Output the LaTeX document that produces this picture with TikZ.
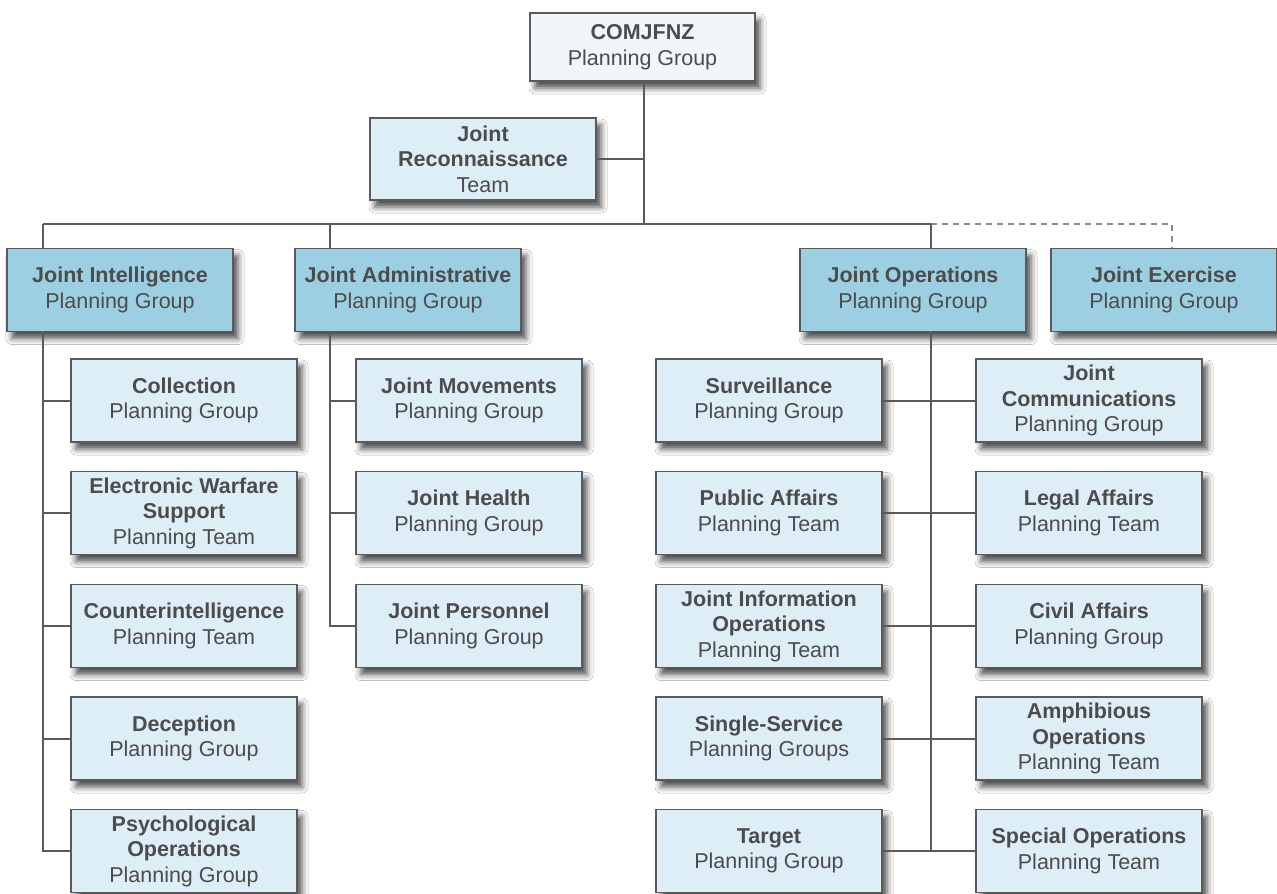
\documentclass[tikz,border=0pt]{standalone}
\usepackage{fontspec}
\setmainfont{Liberation Sans}
\usetikzlibrary{shadows.blur}
\definecolor{lightbox}{HTML}{DDEEF6}
\definecolor{topbox}{HTML}{F1F6FA}
\definecolor{headbox}{HTML}{9DCFE2}
\definecolor{edge}{HTML}{5A5A5A}
\definecolor{txt}{HTML}{4C4C4C}
\definecolor{dashc}{HTML}{8C8C8C}
\tikzset{
  box/.style={draw=edge, line width=1.4pt, minimum width=226pt, minimum height=83pt,
    inner sep=0pt, align=center, text=txt, font=\fontsize{21.5}{25.5}\selectfont,
    blur shadow={shadow xshift=5pt, shadow yshift=-7pt, shadow blur radius=6pt, shadow opacity=70}},
  lbox/.style={box, fill=lightbox},
  hbox/.style={box, fill=headbox},
  tbox/.style={box, fill=topbox, minimum width=225pt, minimum height=68pt},
  conn/.style={draw=edge, line width=2pt},
  dconn/.style={draw=dashc, line width=1.6pt, dash pattern=on 6pt off 5pt}
}
\begin{document}
\begin{tikzpicture}[x=1pt,y=-1pt]
\useasboundingbox (0,0) rectangle (1277,894);
\fill[white] (0,0) rectangle (1277,894);
% bus coordinates
\coordinate (bl) at (43,224);
\coordinate (ba) at (330,224);
\coordinate (br) at (931,224);
\coordinate (tx) at (644,224);
\coordinate (ex) at (1172,224);
% boxes
\node[tbox] (top) at (642.5,47) {\textbf{COMJFNZ}\\Planning Group};
\node[lbox, minimum height=82pt] (recon) at (483,159) {\textbf{Joint}\\\textbf{Reconnaissance}\\Team};
\node[hbox] (jint) at (120,290) {\textbf{Joint Intelligence}\\Planning Group};
\node[hbox] (jadm) at (408,290) {\textbf{Joint Administrative}\\Planning Group};
\node[hbox] (jops) at (913,290) {\textbf{Joint Operations}\\Planning Group};
\node[hbox] (jex) at (1164,290) {\textbf{Joint Exercise}\\Planning Group};
% intelligence children
\node[lbox] (coll) at (184,400.5) {\textbf{Collection}\\Planning Group};
\node[lbox] (ews) at (184,513) {\textbf{Electronic Warfare}\\\textbf{Support}\\Planning Team};
\node[lbox] (ci) at (184,626) {\textbf{Counterintelligence}\\Planning Team};
\node[lbox] (dec) at (184,738.5) {\textbf{Deception}\\Planning Group};
\node[lbox] (psy) at (184,851) {\textbf{Psychological}\\\textbf{Operations}\\Planning Group};
% administrative children
\node[lbox] (mov) at (469,400.5) {\textbf{Joint Movements}\\Planning Group};
\node[lbox] (hea) at (469,513) {\textbf{Joint Health}\\Planning Group};
\node[lbox] (per) at (469,626) {\textbf{Joint Personnel}\\Planning Group};
% operations children, left
\node[lbox] (sur) at (769,400.5) {\textbf{Surveillance}\\Planning Group};
\node[lbox] (pa) at (769,513) {\textbf{Public Affairs}\\Planning Team};
\node[lbox] (jio) at (769,626) {\textbf{Joint Information}\\\textbf{Operations}\\Planning Team};
\node[lbox] (ss) at (769,738.5) {\textbf{Single-Service}\\Planning Groups};
\node[lbox] (tgt) at (769,851) {\textbf{Target}\\Planning Group};
% operations children, right
\node[lbox] (com) at (1089,400.5) {\textbf{Joint}\\\textbf{Communications}\\Planning Group};
\node[lbox] (la) at (1089,513) {\textbf{Legal Affairs}\\Planning Team};
\node[lbox] (ca) at (1089,626) {\textbf{Civil Affairs}\\Planning Group};
\node[lbox] (amp) at (1089,738.5) {\textbf{Amphibious}\\\textbf{Operations}\\Planning Team};
\node[lbox] (so) at (1089,851) {\textbf{Special Operations}\\Planning Team};
% connectors
\draw[conn] (top.south -| tx) -- (tx);
\draw[conn] (recon.east) -- (recon.east -| tx);
\draw[conn] (bl) -- (br);
\draw[dconn] (br) -- (ex) -- (ex |- jex.north);
\draw[conn] (bl) -- (bl |- jint.north);
\draw[conn] (ba) -- (ba |- jadm.north);
\draw[conn] (br) -- (br |- jops.north);
\draw[conn] (bl |- jint.south) -- (bl |- psy.west) -- (psy.west);
\draw[conn] (bl |- coll.west) -- (coll.west);
\draw[conn] (bl |- ews.west) -- (ews.west);
\draw[conn] (bl |- ci.west) -- (ci.west);
\draw[conn] (bl |- dec.west) -- (dec.west);
\draw[conn] (ba |- jadm.south) -- (ba |- per.west) -- (per.west);
\draw[conn] (ba |- mov.west) -- (mov.west);
\draw[conn] (ba |- hea.west) -- (hea.west);
\draw[conn] (br |- jops.south) -- (br |- so.west);
\draw[conn] (sur.east) -- (com.west);
\draw[conn] (pa.east) -- (la.west);
\draw[conn] (jio.east) -- (ca.west);
\draw[conn] (ss.east) -- (amp.west);
\draw[conn] (tgt.east) -- (so.west);
\end{tikzpicture}
\end{document}
